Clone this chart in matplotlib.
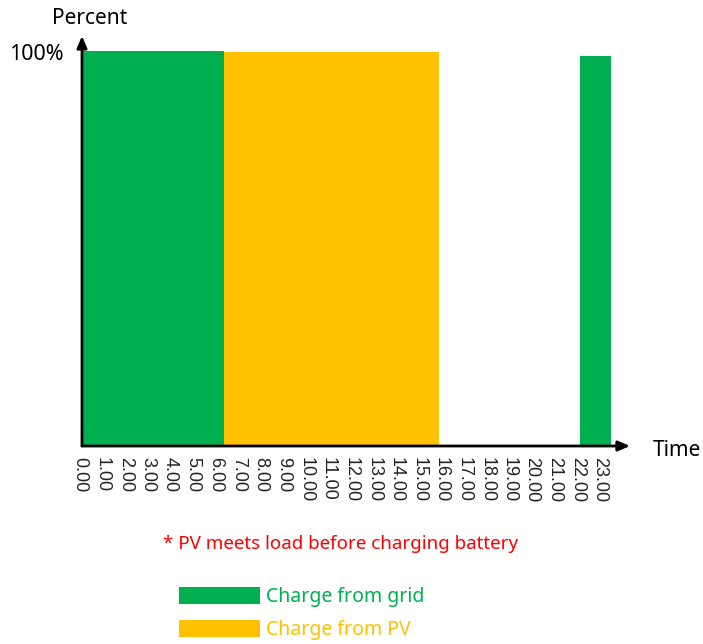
import matplotlib
matplotlib.use("Agg")
import matplotlib.pyplot as plt
from matplotlib.patches import Rectangle

# hour-of-day tick labels
hours = list(range(24))
hour_labels = ["%d.00" % h for h in hours]

# charging blocks: start hour, end hour, battery level (%), source
block_start = [0.1, 6.35, 22.13]
block_end = [6.35, 15.9, 23.5]
block_level = [100.3, 100.0, 99.0]
block_source = ["grid", "pv", "grid"]

SOURCE_COLORS = {"grid": "#00B050", "pv": "#FFC000"}
legend_labels = {"grid": "Charge from grid", "pv": "Charge from PV"}

W, H = 703, 644


def fx(px):
    return px / W


def fy(py):
    return 1 - py / H


fig = plt.figure(figsize=(W / 100, H / 100), dpi=100)
ax = fig.add_axes([fx(80), fy(446), fx(630) - fx(80), fy(38) - fy(446)])

for s, e, lvl, src in zip(block_start, block_end, block_level, block_source):
    ax.bar(s, lvl, width=e - s, align="edge", color=SOURCE_COLORS[src], linewidth=0)

ax.set_xlim(0, 550 / 22.6)
ax.set_ylim(0, 103.5)
for sp in ax.spines.values():
    sp.set_visible(False)

ax.set_xticks(hours)
ax.set_xticklabels(hour_labels, rotation=270, fontsize=13, family="Liberation Sans",
                   color="#222222")
ax.set_yticks([100])
ax.set_yticklabels(["100%"], fontsize=15.5, family="Noto Sans")
ax.tick_params(axis="x", length=0, pad=8)
ax.tick_params(axis="y", length=0, pad=12)

# axis arrows
arrow = dict(arrowstyle="-|>,head_length=0.7,head_width=0.3", color="black", lw=2,
             shrinkA=0, shrinkB=0)
x0 = 2 / 550
ax.annotate("", xy=(1, 0), xytext=(x0, 0), xycoords="axes fraction",
            arrowprops=arrow, annotation_clip=False)
ax.annotate("", xy=(x0, 1.005), xytext=(x0, 0), xycoords="axes fraction",
            arrowprops=arrow, annotation_clip=False)

fig.text(fx(52), fy(18), "Percent", fontsize=15, family="Noto Sans", va="center", ha="left")
fig.text(fx(653), fy(450), "Time", fontsize=15, family="Noto Sans", va="center", ha="left")

fig.text(fx(341), fy(544), "* PV meets load before charging battery", fontsize=13.5,
         family="Noto Sans", color="#FF0000", ha="center", va="center")

# legend
for i, src in enumerate(["grid", "pv"]):
    top = 587 + i * 33
    fig.add_artist(Rectangle((fx(179), fy(top + 17)), fx(260) - fx(179), 17 / H,
                             color=SOURCE_COLORS[src], transform=fig.transFigure, lw=0))
    fig.text(fx(266), fy(top + 10), legend_labels[src], fontsize=14, family="Noto Sans",
             color=SOURCE_COLORS[src], ha="left", va="center")

fig.savefig("out.png", dpi=100, facecolor="white")
